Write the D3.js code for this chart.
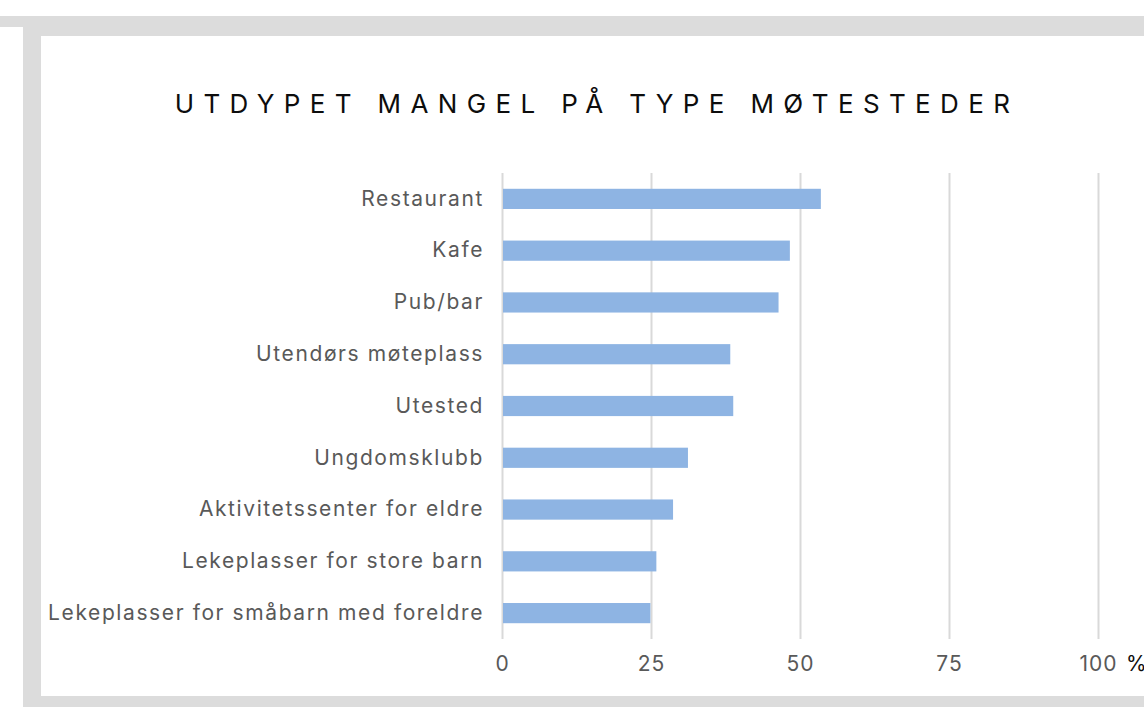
<!DOCTYPE html>
<html>
<head>
<meta charset="utf-8">
<script src="https://cdn.jsdelivr.net/npm/d3@7"></script>
<style>
  html, body { margin: 0; padding: 0; background: #ffffff; }
  svg { display: block; }
</style>
</head>
<body>
<svg id="chart" width="1144" height="707"></svg>
<script>
const title = 'UTDYPET MANGEL PÅ TYPE MØTESTEDER';
const categories = [
  'Restaurant',
  'Kafe',
  'Pub/bar',
  'Utendørs møteplass',
  'Utested',
  'Ungdomsklubb',
  'Aktivitetssenter for eldre',
  'Lekeplasser for store barn',
  'Lekeplasser for småbarn med foreldre'
];
const values = [53.5, 48.3, 46.4, 38.3, 38.8, 31.2, 28.7, 25.9, 24.9];
const xTicks = [0, 25, 50, 75, 100];
const unitLabel = '%';

const width = 1144;
const height = 707;
const frameColor = '#dcdcdc';
const barColor = '#8eb4e3';
const gridColor = '#d9d9d9';
const labelColor = '#595959';
const font = 'Inter, "Open Sans", sans-serif';

const svg = d3.select('#chart');

// grey frame around the white chart panel
svg.append('rect').attr('x', 0).attr('y', 16).attr('width', 23).attr('height', 11).attr('fill', frameColor);
svg.append('rect').attr('x', 23).attr('y', 16).attr('width', width - 23).attr('height', height - 16).attr('fill', frameColor);
svg.append('rect').attr('x', 41).attr('y', 36).attr('width', width - 41).attr('height', 660).attr('fill', '#ffffff');

svg.append('text')
  .attr('x', 597)
  .attr('y', 113)
  .attr('text-anchor', 'middle')
  .style('font-family', font)
  .style('font-size', '26px')
  .style('letter-spacing', '0.36em')
  .style('fill', '#0d0d0d')
  .text(title);

const plot = { left: 502, right: 1098, top: 173, bottom: 639 };

const x = d3.scaleLinear().domain([0, 100]).range([plot.left, plot.right]);
const y = d3.scaleBand()
  .domain(categories)
  .range([plot.top, plot.bottom])
  .paddingInner(0.61)
  .paddingOuter(0.305);

// x axis with gridlines
const xAxis = d3.axisBottom(x)
  .tickValues(xTicks)
  .tickSize(-(plot.bottom - plot.top))
  .tickPadding(17)
  .tickFormat(d3.format('d'));

const gx = svg.append('g')
  .attr('transform', `translate(0,${plot.bottom})`)
  .call(xAxis);
gx.select('.domain').remove();
gx.selectAll('.tick line').attr('stroke', gridColor).attr('stroke-width', 2);
gx.selectAll('.tick text')
  .style('font-family', font)
  .style('font-size', '21px')
  .style('letter-spacing', '1px')
  .style('fill', labelColor);

svg.append('text')
  .attr('x', x(100) + 28)
  .attr('y', plot.bottom + 17)
  .attr('dy', '0.71em')
  .style('font-family', font)
  .style('font-size', '21px')
  .style('fill', '#0d0d0d')
  .text(unitLabel);

// bars
svg.append('g')
  .selectAll('rect')
  .data(categories.map((c, i) => ({ c, v: values[i] })))
  .join('rect')
  .attr('x', x(0) + 1)
  .attr('y', d => y(d.c))
  .attr('width', d => x(d.v) - x(0) - 1)
  .attr('height', y.bandwidth())
  .attr('fill', barColor);

// category labels
const yAxis = d3.axisLeft(y).tickSize(0).tickPadding(18);
const gy = svg.append('g')
  .attr('transform', `translate(${plot.left},0)`)
  .call(yAxis);
gy.select('.domain').remove();
gy.selectAll('.tick text')
  .style('font-family', font)
  .style('font-size', '21px')
  .style('letter-spacing', '1.6px')
  .style('fill', labelColor);
</script>
</body>
</html>
